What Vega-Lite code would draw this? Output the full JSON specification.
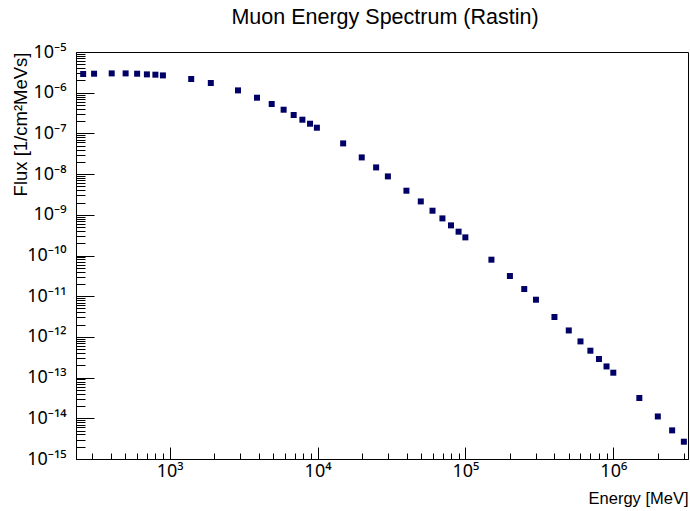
{
  "$schema": "https://vega.github.io/schema/vega-lite/v6.json",
  "width": 612,
  "height": 407,
  "autosize": {"type": "none"},
  "padding": {"left": 76, "top": 52, "right": 2, "bottom": 52},
  "background": "white",
  "config": {"view": {"stroke": "black", "strokeWidth": 1}, "font": "Liberation Sans"},
  "title": {"text": "Muon Energy Spectrum (Rastin)", "fontSize": 21.5, "fontWeight": "normal", "font": "Liberation Sans", "anchor": "middle", "baseline": "alphabetic", "offset": -2, "dx": 3, "color": "black"},
  "data": {"values": [
    {"energy": 259.94, "flux": 2.88e-6},
    {"energy": 308.06, "flux": 2.93e-6},
    {"energy": 405.38, "flux": 2.98e-6},
    {"energy": 503.57, "flux": 2.98e-6},
    {"energy": 602.27, "flux": 2.93e-6},
    {"energy": 701.28, "flux": 2.82e-6},
    {"energy": 800.52, "flux": 2.77e-6},
    {"energy": 899.91, "flux": 2.66e-6},
    {"energy": 1398.06, "flux": 2.17e-6},
    {"energy": 1897.13, "flux": 1.73e-6},
    {"energy": 2896.2, "flux": 1.14e-6},
    {"energy": 3895.74, "flux": 7.54e-7},
    {"energy": 4895.46, "flux": 5.27e-7},
    {"energy": 5895.27, "flux": 3.82e-7},
    {"energy": 6895.14, "flux": 2.83e-7},
    {"energy": 7895.04, "flux": 2.17e-7},
    {"energy": 8894.96, "flux": 1.73e-7},
    {"energy": 9894.9, "flux": 1.38e-7},
    {"energy": 14894.71, "flux": 5.68e-8},
    {"energy": 19894.62, "flux": 2.57e-8},
    {"energy": 24894.56, "flux": 1.46e-8},
    {"energy": 29894.53, "flux": 8.78e-9},
    {"energy": 39894.48, "flux": 3.91e-9},
    {"energy": 49894.45, "flux": 2.13e-9},
    {"energy": 59894.43, "flux": 1.26e-9},
    {"energy": 69894.42, "flux": 8.16e-10},
    {"energy": 79894.41, "flux": 5.5e-10},
    {"energy": 89894.41, "flux": 3.85e-10},
    {"energy": 99894.4, "flux": 2.79e-10},
    {"energy": 149894.38, "flux": 7.89e-11},
    {"energy": 199894.37, "flux": 3.13e-11},
    {"energy": 249894.37, "flux": 1.5e-11},
    {"energy": 299894.36, "flux": 8.2e-12},
    {"energy": 399894.36, "flux": 3.08e-12},
    {"energy": 499894.35, "flux": 1.44e-12},
    {"energy": 599894.35, "flux": 7.75e-13},
    {"energy": 699894.35, "flux": 4.58e-13},
    {"energy": 799894.35, "flux": 2.86e-13},
    {"energy": 899894.35, "flux": 1.88e-13},
    {"energy": 999894.35, "flux": 1.32e-13},
    {"energy": 1499894.35, "flux": 3.15e-14},
    {"energy": 1999894.34, "flux": 1.11e-14},
    {"energy": 2499894.34, "flux": 5.05e-15},
    {"energy": 2999894.34, "flux": 2.66e-15}
  ]},
  "mark": {"type": "point", "shape": "square", "filled": true, "size": 36, "color": "#000066", "opacity": 1, "strokeWidth": 0},
  "encoding": {
    "x": {
      "field": "energy",
      "type": "quantitative",
      "scale": {"type": "log", "domain": [232.5, 3200000], "nice": false},
      "axis": {
        "title": "Energy [MeV]",
        "values": [300, 400, 500, 600, 700, 800, 900, 1000, 2000, 3000, 4000, 5000, 6000, 7000, 8000, 9000, 10000, 20000, 30000, 40000, 50000, 60000, 70000, 80000, 90000, 100000, 200000, 300000, 400000, 500000, 600000, 700000, 800000, 900000, 1000000, 2000000, 3000000],
        "labelExpr": "abs(log(datum.value)/LN10 - round(log(datum.value)/LN10)) > 0.001 ? '' : '10' + ['⁰','¹','²','³','⁴','⁵','⁶','⁷','⁸','⁹'][round(log(datum.value)/LN10)]",
        "tickSize": {"condition": {"test": "abs(log(datum.value)/LN10 - round(log(datum.value)/LN10)) < 0.001", "value": -12}, "value": -6},
        "labelPadding": 15,
        "grid": false,
        "domainColor": "black",
        "tickColor": "black",
        "labelFont": "Noto Sans",
        "labelFontSize": 18,
        "labelColor": "black",
        "labelFlush": false,
        "labelOverlap": false,
        "titleFont": "Liberation Sans",
        "titleFontSize": 16.5,
        "titleFontWeight": "normal",
        "titleColor": "black",
        "titleAnchor": "end",
        "titleAlign": "right",
        "titleBaseline": "alphabetic",
        "titleX": 612,
        "titleY": 44
      }
    },
    "y": {
      "field": "flux",
      "type": "quantitative",
      "scale": {"type": "log", "domain": [1e-15, 1e-5], "nice": false},
      "axis": {
        "title": "Flux [1/cm²MeVs]",
        "values": [1e-15, 2e-15, 3e-15, 4e-15, 5e-15, 6e-15, 7e-15, 8e-15, 9e-15, 1e-14, 2e-14, 3e-14, 4e-14, 5e-14, 6e-14, 7e-14, 8e-14, 9e-14, 1e-13, 2e-13, 3e-13, 4e-13, 5e-13, 6e-13, 7e-13, 8e-13, 9e-13, 1e-12, 2e-12, 3e-12, 4e-12, 5e-12, 6e-12, 7e-12, 8e-12, 9e-12, 1e-11, 2e-11, 3e-11, 4e-11, 5e-11, 6e-11, 7e-11, 8e-11, 9e-11, 1e-10, 2e-10, 3e-10, 4e-10, 5e-10, 6e-10, 7e-10, 8e-10, 9e-10, 1e-9, 2e-9, 3e-9, 4e-9, 5e-9, 6e-9, 7e-9, 8e-9, 9e-9, 1e-8, 2e-8, 3e-8, 4e-8, 5e-8, 6e-8, 7e-8, 8e-8, 9e-8, 1e-7, 2e-7, 3e-7, 4e-7, 5e-7, 6e-7, 7e-7, 8e-7, 9e-7, 1e-6, 2e-6, 3e-6, 4e-6, 5e-6, 6e-6, 7e-6, 8e-6, 9e-6, 1e-5],
        "labelExpr": "abs(log(datum.value)/LN10 - round(log(datum.value)/LN10)) > 0.001 ? '' : '10⁻' + (round(-log(datum.value)/LN10) >= 10 ? '¹' : '') + ['⁰','¹','²','³','⁴','⁵','⁶','⁷','⁸','⁹'][round(-log(datum.value)/LN10) % 10]",
        "tickSize": {"condition": {"test": "abs(log(datum.value)/LN10 - round(log(datum.value)/LN10)) < 0.001", "value": -18}, "value": -9},
        "labelPadding": 28,
        "grid": false,
        "domainColor": "black",
        "tickColor": "black",
        "labelFont": "Noto Sans",
        "labelFontSize": 18,
        "labelColor": "black",
        "labelFlush": false,
        "labelOverlap": false,
        "titleFont": "Liberation Sans",
        "titleFontSize": 18.5,
        "titleFontWeight": "normal",
        "titleColor": "black",
        "titleAngle": 270,
        "titleAnchor": "end",
        "titleAlign": "right",
        "titleBaseline": "middle",
        "titleX": -56,
        "titleY": 0
      }
    }
  }
}
